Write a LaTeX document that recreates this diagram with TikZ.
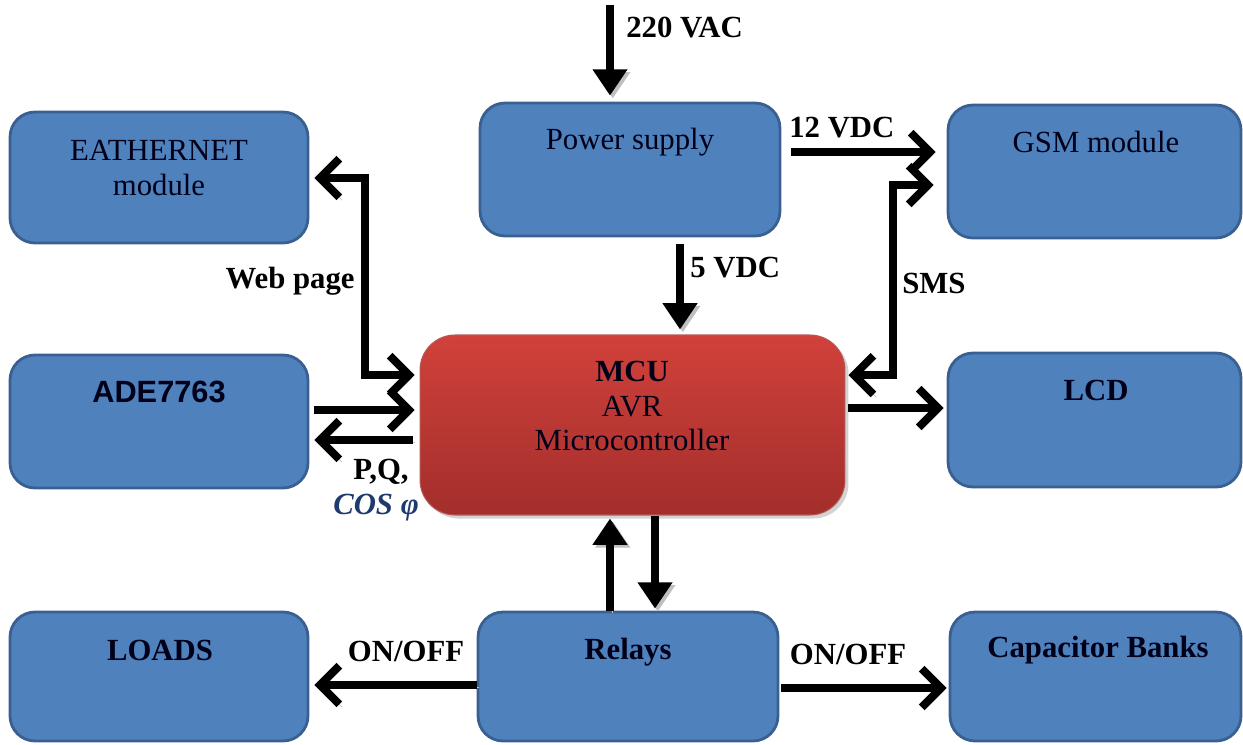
\documentclass[tikz,border=0pt]{standalone}
\usepackage{fontspec}
\setmainfont{Liberation Serif}
\newfontfamily\arialfont{Liberation Sans}
\usetikzlibrary{arrows.meta,shadows}
\definecolor{boxblue}{HTML}{4F81BD}
\definecolor{boxedge}{HTML}{3A6091}
\definecolor{mcutop}{HTML}{D1413B}
\definecolor{mcubot}{HTML}{A32E2B}
\definecolor{cosblue}{HTML}{1F3A6E}
\begin{document}
\begin{tikzpicture}[x=0.02cm,y=-0.02cm,
  bbox/.style={draw=boxedge,line width=1.6pt,fill=boxblue,rounded corners=0.5cm,inner sep=0pt},
  redbox/.style={top color=mcutop,bottom color=mcubot,draw=mcubot!80,line width=0.6pt,rounded corners=0.7cm,inner sep=0pt,
     drop shadow={opacity=0.35,shadow xshift=2pt,shadow yshift=-2pt}},
  boxtext/.style={font=\fontsize{17.5}{20}\selectfont,text=black!90!blue,align=center},
  btext/.style={font=\bfseries\fontsize{17.5}{20}\selectfont,text=black!90!blue,align=center},
  lbl/.style={font=\bfseries\fontsize{17.5}{20}\selectfont,inner sep=0pt},
  shad/.style={preaction={draw=black!25,transform canvas={shift={(1.6pt,-1.6pt)}}}},
  chev/.style={line width=4.5pt,shad,-{Straight Barb[length=11pt,width=22pt]}},
  chevboth/.style={line width=4.5pt,shad,{Straight Barb[length=11pt,width=22pt]}-{Straight Barb[length=11pt,width=22pt]}},
  tri/.style={line width=4.5pt,shad,-{Triangle[length=15pt,width=19pt]}}]
\useasboundingbox (0,0) rectangle (1243,744);
% boxes
\node[bbox,minimum width=5.96cm,minimum height=2.62cm] (eth) at (159,177.5) {};
\node[bbox,minimum width=6.0cm,minimum height=2.66cm] (ps) at (630,169.5) {};
\node[bbox,minimum width=5.86cm,minimum height=2.66cm] (gsm) at (1094.5,171.5) {};
\node[bbox,minimum width=5.96cm,minimum height=2.66cm] (ade) at (159,421.5) {};
\node[redbox,minimum width=8.5cm,minimum height=3.6cm] (mcu) at (632.5,425) {};
\node[bbox,minimum width=5.86cm,minimum height=2.68cm] (lcd) at (1094.5,420) {};
\node[bbox,minimum width=5.96cm,minimum height=2.58cm] (loads) at (159,676.5) {};
\node[bbox,minimum width=6.0cm,minimum height=2.58cm] (relays) at (628,676.5) {};
\node[bbox,minimum width=5.82cm,minimum height=2.58cm] (cap) at (1095.5,676.5) {};
% box texts
\node[boxtext] (ethT) at (159,168) {EATHERNET\\module};
\node[boxtext] (psT) at (630,142) {Power supply};
\node[boxtext] (gsmT) at (1096,142) {GSM module};
\node[btext,font=\arialfont\bfseries\fontsize{17.5}{20}\selectfont] (adeT) at (159,392) {ADE7763};
\node[boxtext,font=\fontsize{17.5}{19.5}\selectfont] (mcuT) at (632,406) {\textbf{MCU}\\AVR\\Microcontroller};
\node[btext] (lcdT) at (1096,390) {LCD};
\node[btext] (loadsT) at (160,650) {LOADS};
\node[btext] (relaysT) at (628,652) {Relays};
\node[btext] (capT) at (1098,650) {Capacitor Banks};
% connectors
\coordinate (ac) at (610,5);
\draw[tri,shorten >=0.12cm] (ac) -- (ps.north -| 610,0);
\draw[tri,shorten <=0.14cm,shorten >=0.1cm] (ps.south -| 680,0) -- (mcu.north -| 680,0);
\draw[chev,shorten <=0.2cm,shorten >=0.22cm] (ps.east |- 0,152) -- (gsm.west |- 0,152);
\draw[chevboth,shorten <=0.26cm,shorten >=0.06cm] (gsm.west |- 0,185) -- (893,185) -- (893,375) -- (mcu.east |- 0,375);
\draw[chevboth,shorten <=0.1cm,shorten >=0.1cm] (eth.east |- 0,178) -- (365,178) -- (365,375) -- (mcu.west |- 0,375);
\draw[chev,shorten <=0.1cm,shorten >=0.1cm] (ade.east |- 0,410) -- (mcu.west |- 0,410);
\draw[chev,shorten <=0.14cm,shorten >=0.1cm] (mcu.west |- 0,440) -- (ade.east |- 0,440);
\draw[chev,shorten <=0.06cm,shorten >=0.06cm] (mcu.east |- 0,408) -- (lcd.west |- 0,408);
\draw[tri,shorten >=0.06cm] (relays.north -| 610,0) -- (mcu.south -| 610,0);
\draw[tri,shorten >=0.04cm] (mcu.south -| 655,0) -- (relays.north -| 655,0);
\draw[chev,shorten >=0.1cm] (relays.west |- 0,685) -- (loads.east |- 0,685);
\draw[chev,shorten <=0.04cm,shorten >=0.04cm] (relays.east |- 0,688) -- (cap.west |- 0,688);
% labels
\node[lbl,anchor=west] (l220) at (626,28) {220 VAC};
\node[lbl,anchor=west] (l5) at (690,268) {5 VDC};
\node[lbl,anchor=west] (l12) at (789,128) {12 VDC};
\node[lbl,anchor=west] (lsms) at (902,283) {SMS};
\node[lbl,anchor=east] (lweb) at (355,281) {Web page};
\node[lbl] (lpq) at (381,472) {P,Q,};
\node[lbl,text=cosblue,font=\bfseries\itshape\fontsize{17.5}{20}\selectfont] (lcos) at (376,508) {COS φ};
\node[lbl] (lon1) at (406,651) {ON/OFF};
\node[lbl] (lon2) at (848,654) {ON/OFF};
\end{tikzpicture}
\end{document}
